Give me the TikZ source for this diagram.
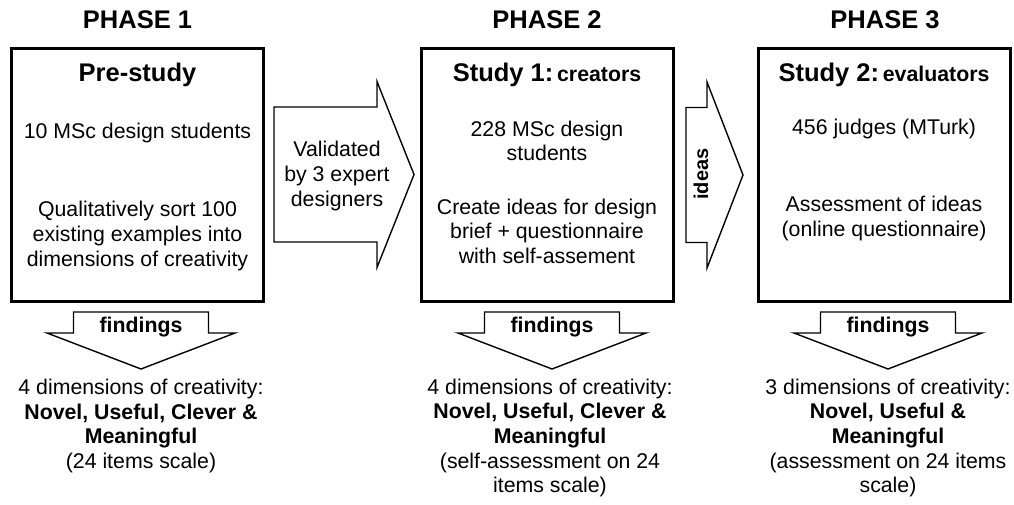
\documentclass[tikz,border=0pt]{standalone}
\usepackage{fontspec}
\setmainfont{Liberation Sans}
\begin{document}
\begin{tikzpicture}[x=1pt,y=-1pt,
  phasebox/.style={draw, line width=3pt, minimum width=252pt, minimum height=253pt, inner sep=0pt},
  blockarrow/.style={draw, line width=1.4pt, line join=miter, fill=white},
  txt/.style={font=\fontsize{21.3}{24.6}\selectfont, align=center, inner sep=0pt},
  boldtxt/.style={font=\fontsize{21.3}{24.6}\selectfont\bfseries, align=center, inner sep=0pt},
  heading/.style={font=\fontsize{25.5}{30}\selectfont\bfseries, inner sep=0pt},
]
\useasboundingbox (0,0) rectangle (1014,504);

% phase headings
\node[heading] (ph1) at (137.5,20) {PHASE 1};
\node[heading] (ph2) at (547,20) {PHASE 2};
\node[heading] (ph3) at (885,20) {PHASE 3};

% the three study boxes
\node[phasebox] (box1) at (137.5,174.5) {};
\node[phasebox] (box2) at (547,174.5) {};
\node[phasebox] (box3) at (884,174.5) {};

% box contents
\node[heading] (t1) at (137.5,75) {Pre-study};
\node[txt] (b1a) at (137.5,133) {10 MSc design students};
\node[txt] (b1b) at (137.5,236) {Qualitatively sort 100\\existing examples into\\dimensions of creativity};

\node[inner sep=0pt] (t2) at (547,75) {{\fontsize{25.5}{30}\selectfont\bfseries Study 1:} {\fontsize{21.3}{25}\selectfont\bfseries creators}};
\node[txt] (b2a) at (547,141) {228 MSc design\\students};
\node[txt] (b2b) at (547,231) {Create ideas for design\\brief + questionnaire\\with self-assement};

\node[inner sep=0pt] (t3) at (884,75) {{\fontsize{25.5}{30}\selectfont\bfseries Study 2:} {\fontsize{21.3}{25}\selectfont\bfseries evaluators}};
\node[txt] (b3a) at (884,129) {456 judges (MTurk)};
\node[txt] (b3b) at (884,218.5) {Assessment of ideas\\(online questionnaire)};

% block arrows between the phases
\draw[blockarrow] (274,107) -- (377,107) -- (377,81.5) -- (414,174.5) -- (377,267.5) -- (377,242) -- (274,242) -- cycle;
\node[txt] (val) at (337,176) {Validated\\by 3 expert\\designers};

\draw[blockarrow] (686,107.5) -- (707,107.5) -- (707,82) -- (743,175) -- (707,268) -- (707,242.5) -- (686,242.5) -- cycle;
\node[boldtxt, font=\fontsize{20}{24}\selectfont\bfseries, rotate=90] (ideas) at (701,174) {ideas};

% findings arrows
\foreach \xc/\nm in {141/f1, 552/f2, 888/f3}{
  \draw[blockarrow] (\xc-67.5,312) -- (\xc+67.5,312) -- (\xc+67.5,333) -- (\xc+94,333)
        -- (\xc,369) -- (\xc-94,333) -- (\xc-67.5,333) -- cycle;
  \node[boldtxt] (\nm) at (\xc,327) {findings};
}

% results
\node[txt] (r1) at (141,426) {4 dimensions of creativity:\\\textbf{Novel, Useful, Clever \&}\\\textbf{Meaningful}\\(24 items scale)};
\node[txt] (r2) at (550,438) {4 dimensions of creativity:\\\textbf{Novel, Useful, Clever \&}\\\textbf{Meaningful}\\(self-assessment on 24\\items scale)};
\node[txt] (r3) at (888,438) {3 dimensions of creativity:\\\textbf{Novel, Useful \&}\\\textbf{Meaningful}\\(assessment on 24 items\\scale)};
\end{tikzpicture}
\end{document}
